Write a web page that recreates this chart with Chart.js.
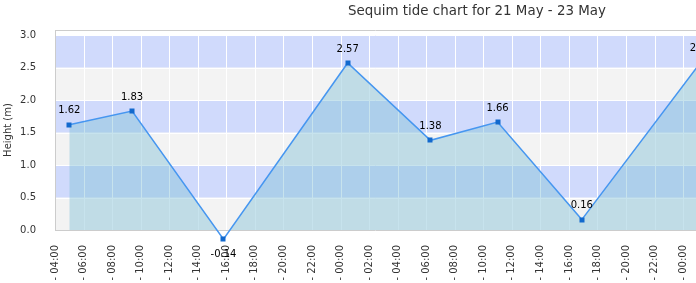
<!DOCTYPE html>
<html lang="en">

<head>
    <meta charset="UTF-8">
    <script src="https://cdn.jsdelivr.net/npm/chart.js"></script>
    <title>Sequim tide chart</title>
    <style>
        html, body {
            margin: 0;
            padding: 0;
            background: #ffffff;
        }

        .chart-box {
            width: 696px;
            height: 283px;
        }
    </style>
</head>

<body>
    <div class="chart-box">
        <canvas id="tideChart"></canvas>
    </div>
    <script>
        // tide extremes
        const tideDays = [21, 21, 21, 22, 22, 22, 22, 23];
        const tideTimes = ['05:00', '09:24', '15:48', '00:30', '06:18', '11:00', '16:54', '01:14'];
        const tideHeights = [1.62, 1.83, -0.14, 2.57, 1.38, 1.66, 0.16, 2.58];

        // axis ticks (hours from 21 May 00:00)
        const firstTickHour = 4;
        const lastTickHour = 48;
        const tickStepHours = 2;
        const heightTicks = [0, 0.5, 1.0, 1.5, 2.0, 2.5, 3.0];

        const chartTitle = 'Sequim tide chart for 21 May - 23 May';
        const fontFamily = "'DejaVu Sans', Verdana, sans-serif";

        function toHours(day, time) {
            const parts = time.split(':');
            return (day - 21) * 24 + Number(parts[0]) + Number(parts[1]) / 60;
        }

        const tidePoints = tideHeights.map(function (h, i) {
            return { x: toHours(tideDays[i], tideTimes[i]), y: h };
        });

        // striped background + white grid behind the data
        const bandPlugin = {
            id: 'bands',
            beforeDatasetsDraw(chart) {
                const ctx = chart.ctx;
                const area = chart.chartArea;
                const x = chart.scales.x;
                const y = chart.scales.y;
                ctx.save();
                for (let i = 0; i < heightTicks.length - 1; i++) {
                    const top = y.getPixelForValue(heightTicks[i + 1]);
                    const bottom = y.getPixelForValue(heightTicks[i]);
                    ctx.fillStyle = i % 2 === 0 ? '#f3f3f3' : '#d0dafc';
                    ctx.fillRect(area.left, top, area.right - area.left, bottom - top);
                }
                ctx.strokeStyle = '#ffffff';
                ctx.lineWidth = 1;
                ctx.beginPath();
                x.ticks.forEach(function (t) {
                    const px = Math.round(x.getPixelForValue(t.value)) + 0.5;
                    ctx.moveTo(px, area.top);
                    ctx.lineTo(px, area.bottom);
                });
                heightTicks.forEach(function (v) {
                    const py = Math.round(y.getPixelForValue(v)) + 0.5;
                    ctx.moveTo(area.left, py);
                    ctx.lineTo(area.right, py);
                });
                ctx.stroke();
                // frame
                ctx.strokeStyle = '#cccccc';
                ctx.beginPath();
                ctx.moveTo(area.left, area.top + 0.5);
                ctx.lineTo(chart.width, area.top + 0.5);
                ctx.moveTo(area.left + 0.5, area.top);
                ctx.lineTo(area.left + 0.5, area.bottom);
                ctx.moveTo(area.left, area.bottom + 0.5);
                ctx.lineTo(area.right, area.bottom + 0.5);
                ctx.stroke();
                ctx.restore();
            }
        };

        // markers, value labels + title
        const labelPlugin = {
            id: 'valueLabels',
            afterDraw(chart) {
                const ctx = chart.ctx;
                const meta = chart.getDatasetMeta(0);
                ctx.save();
                ctx.fillStyle = 'rgb(18, 105, 205)';
                meta.data.forEach(function (pt) {
                    ctx.fillRect(Math.round(pt.x) - 2.5, Math.round(pt.y) - 2.5, 5, 5);
                });
                ctx.font = '10px ' + fontFamily;
                ctx.fillStyle = '#000000';
                ctx.textAlign = 'center';
                ctx.textBaseline = 'middle';
                meta.data.forEach(function (pt, i) {
                    const v = tideHeights[i];
                    const dy = v < 0 ? 15 : -14;
                    ctx.fillText(v.toFixed(2), pt.x, pt.y + dy);
                });
                ctx.font = '13.4px ' + fontFamily;
                ctx.fillStyle = '#333333';
                ctx.fillText(chartTitle, 477, 12);
                ctx.restore();
            }
        };

        const ctxTide = document.getElementById('tideChart').getContext('2d');
        const tideChart = new Chart(ctxTide, {
            type: 'line',
            data: {
                datasets: [{
                    label: 'Height (m)',
                    data: tidePoints,
                    clip: false,
                    borderColor: 'rgb(70, 150, 240)',
                    borderWidth: 1.5,
                    backgroundColor: 'rgba(134, 195, 215, 0.46)',
                    fill: 'origin',
                    tension: 0,
                    pointRadius: 0
                }]
            },
            options: {
                responsive: true,
                maintainAspectRatio: false,
                animation: false,
                layout: {
                    padding: { top: 30, right: 0, left: 0, bottom: 0 }
                },
                plugins: {
                    legend: { display: false },
                    title: { display: false },
                    tooltip: { enabled: false }
                },
                scales: {
                    x: {
                        type: 'linear',
                        min: firstTickHour,
                        max: 48.9,
                        afterBuildTicks: function (scale) {
                            const t = [];
                            for (let h = firstTickHour; h <= lastTickHour; h += tickStepHours) {
                                t.push({ value: h });
                            }
                            scale.ticks = t;
                        },
                        afterFit: function (scale) {
                            scale.height = 53;
                            scale.paddingLeft = 0;
                            scale.paddingRight = 0;
                        },
                        grid: {
                            display: false
                        },
                        border: { display: false },
                        ticks: {
                            autoSkip: false,
                            minRotation: 90,
                            maxRotation: 90,
                            padding: 7,
                            color: '#333333',
                            font: { family: fontFamily, size: 10 },
                            callback: function (value) {
                                const h = ((value % 24) + 24) % 24;
                                return '- ' + String(h).padStart(2, '0') + ':00';
                            }
                        }
                    },
                    y: {
                        min: 0,
                        max: 3.077,
                        afterBuildTicks: function (scale) {
                            scale.ticks = heightTicks.map(function (v) { return { value: v }; });
                        },
                        afterFit: function (scale) {
                            scale.width = 55;
                        },
                        grid: {
                            display: false
                        },
                        border: { display: false },
                        title: {
                            display: true,
                            text: 'Height (m)',
                            color: '#333333',
                            font: { family: fontFamily, size: 10 },
                            padding: { top: 2, bottom: 0 }
                        },
                        ticks: {
                            padding: 11,
                            color: '#333333',
                            font: { family: fontFamily, size: 10 },
                            callback: function (value) {
                                return Number(value).toFixed(1);
                            }
                        }
                    }
                }
            },
            plugins: [bandPlugin, labelPlugin]
        });
    </script>
</body>

</html>
